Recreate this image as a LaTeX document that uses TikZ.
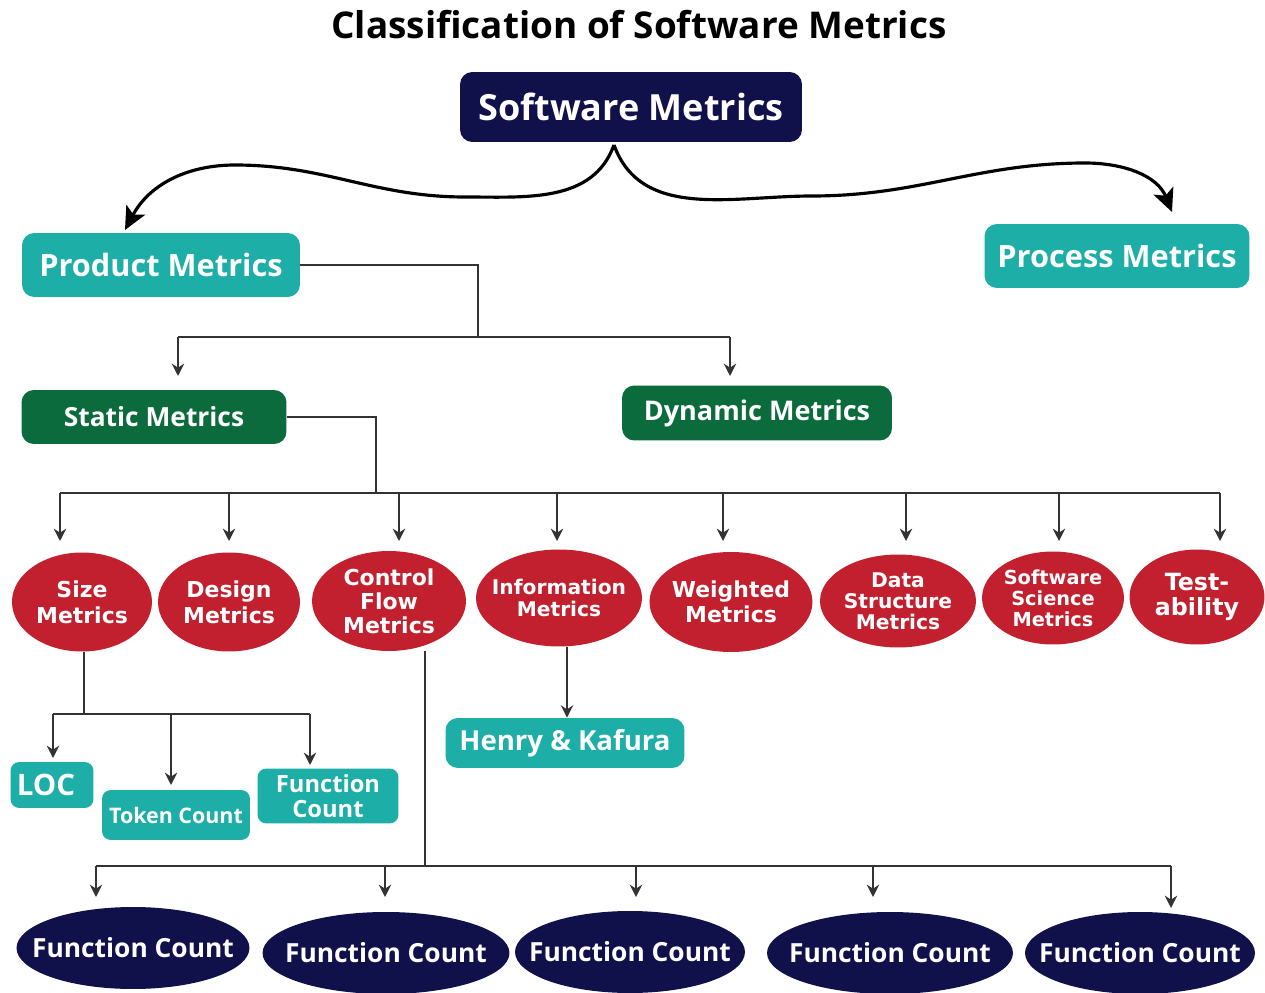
\documentclass[tikz,border=0pt]{standalone}
\usepackage{fontspec}
\setmainfont{Open Sans}
\newfontfamily\ellfont{DejaVu Sans}
\usetikzlibrary{shapes.geometric,arrows.meta}

\definecolor{navyc}{HTML}{10104A}
\definecolor{tealc}{HTML}{1CAEA7}
\definecolor{greenc}{HTML}{0C6B3C}
\definecolor{redc}{HTML}{C2202E}

\newcommand{\fs}[2]{\fontsize{#1}{#2}\selectfont}

\tikzset{
    box/.style={rounded corners=7pt, text=white, font=\bfseries, inner sep=0pt, align=center},
    tealbox/.style={box, fill=tealc},
    greenbox/.style={box, fill=greenc},
    redell/.style={ellipse, fill=redc, text=white, inner xsep=-12pt, inner ysep=-4pt, align=center},
    navyell/.style={ellipse, fill=navyc, text=white, inner xsep=-0.4cm, inner ysep=0pt,
        minimum height=1.64cm, font=\bfseries\fs{15}{17}},
    link/.style={line width=1.1pt, draw=black!80},
    arr/.style={link, -{Stealth[length=7pt,width=7pt]}},
    wave/.style={line width=1.8pt, -{Stealth[length=13pt,width=12pt,inset=3pt]}}
}

\begin{document}
\begin{tikzpicture}[x=0.02cm, y=-0.02cm]

    \useasboundingbox (0,0) rectangle (1265,993);

    \node[font=\bfseries\fs{21}{24}] (title) at (639,25) {Classification of Software Metrics};

    \node[box, fill=navyc, minimum width=6.84cm, minimum height=1.4cm,
        font=\bfseries\fs{20.5}{24}] (sm) at (631,107) {Software Metrics};

    \node[tealbox, minimum width=5.56cm, minimum height=1.28cm,
        font=\bfseries\fs{17.5}{20}] (product) at (161,265) {Product Metrics};
    \node[tealbox, minimum width=5.3cm, minimum height=1.28cm,
        font=\bfseries\fs{17.5}{20}] (process) at (1117,256) {Process Metrics};

    % wavy arrows from the root
    \coordinate (smb) at (614,145);
    \draw[wave] (smb) to[out=-110,in=0] (465,197) to[out=180,in=0] (235,165)
        to[out=180,in=62] (125,230);
    \draw[wave] (smb) to[out=-70,in=180] (812,196) to[out=0,in=180] (1085,163)
        to[out=0,in=112] (1172,212);

    \node[greenbox, minimum width=5.3cm, minimum height=1.08cm,
        font=\bfseries\fs{15}{17}] (static) at (154,417) {Static Metrics};
    \node[greenbox, minimum width=5.4cm, minimum height=1.1cm,
        font=\bfseries\fs{15.4}{17}] (dynamic) at (757,413) {Dynamic Metrics};

    \coordinate (pbus) at (478,337);
    \draw[link] (product.east) -| (pbus);
    \draw[link] (178,337) -- (730,337);
    \draw[arr] (178,337) -- (178,376);
    \draw[arr] (730,337) -- (730,376);

    % static metrics
    \node[redell, minimum width=2.8cm, minimum height=1.98cm,
        font=\ellfont\bfseries\fs{12.5}{15}] (size) at (82,602) {Size\\Metrics};
    \node[redell, minimum width=2.84cm, minimum height=1.98cm,
        font=\ellfont\bfseries\fs{12.5}{15}] (design) at (229,602) {Design\\Metrics};
    \node[redell, minimum width=3.08cm, minimum height=2cm,
        font=\ellfont\bfseries\fs{12.5}{13.6}] (control) at (389,601) {Control\\Flow\\Metrics};
    \node[redell, minimum width=3.32cm, minimum height=1.94cm,
        font=\ellfont\bfseries\fs{11.5}{12}] (info) at (559,598) {Information\\Metrics};
    \node[redell, minimum width=3.26cm, minimum height=2cm,
        font=\ellfont\bfseries\fs{12.5}{14}] (weighted) at (731,602) {Weighted\\Metrics};
    \node[redell, minimum width=3.12cm, minimum height=1.86cm,
        font=\ellfont\bfseries\fs{11.5}{12}] (data) at (898,601) {Data\\Structure\\Metrics};
    \node[redell, minimum width=2.84cm, minimum height=1.86cm,
        font=\ellfont\bfseries\fs{11}{12}] (science) at (1053,598) {Software\\Science\\Metrics};
    \node[redell, minimum width=2.7cm, minimum height=1.9cm,
        font=\ellfont\bfseries\fs{13.5}{14}] (test) at (1197,597) {Test-\\ability};

    \coordinate (sbus) at (376,493);
    \draw[link] (static.east) -| (sbus);
    \draw[link] (60,493) -- (1220,493);
    \foreach \xx in {60, 229, 399, 557, 723, 906, 1059, 1220}
        \draw[arr] (\xx,493) -- (\xx,541);

    \node[tealbox, minimum width=4.78cm, minimum height=1cm,
        font=\bfseries\fs{15.7}{18}] (henry) at (565,743) {Henry \& Kafura};
    \draw[arr] (info.south -| 567,0) -- (henry.north -| 567,0);

    % size metrics
    \node[tealbox, rounded corners=5pt, minimum width=1.66cm, minimum height=0.92cm,
        font=\bfseries\fs{16.8}{18}] (loc) at (52,785) {LOC\hspace{0.4em}};
    \node[tealbox, rounded corners=5pt, minimum width=2.96cm, minimum height=1cm,
        font=\bfseries\fs{12.2}{14}] (token) at (176,815) {Token Count};
    \node[tealbox, rounded corners=5pt, minimum width=2.82cm, minimum height=1.1cm,
        font=\bfseries\fs{13.5}{14}] (fcount) at (328,796) {Function\\Count};
    \coordinate (zbus) at (84,714);
    \draw[link] (size.south -| zbus) -- (zbus);
    \draw[link] (53,714) -- (310,714);
    \draw[arr] (53,714) -- (53,758);
    \draw[arr] (171,714) -- (171,785);
    \draw[arr] (310,714) -- (310,765);

    % control flow metrics
    \node[navyell, minimum width=4.66cm] (f1) at (133,948) {Function Count};
    \node[navyell, minimum width=4.94cm] (f2) at (386,953) {Function Count};
    \node[navyell, minimum width=4.6cm] (f3) at (630,952) {Function Count};
    \node[navyell, minimum width=4.92cm] (f4) at (890,953) {Function Count};
    \node[navyell, minimum width=4.6cm] (f5) at (1140,953) {Function Count};
    \coordinate (cbus) at (425,866);
    \draw[link] (control.south -| cbus) -- (cbus);
    \draw[link] (96,866) -- (1171,866);
    \foreach \xx in {96, 385, 636, 873}
        \draw[arr] (\xx,866) -- (\xx,897);
    \draw[arr] (1171,866) -- (1171,908);

\end{tikzpicture}
\end{document}
